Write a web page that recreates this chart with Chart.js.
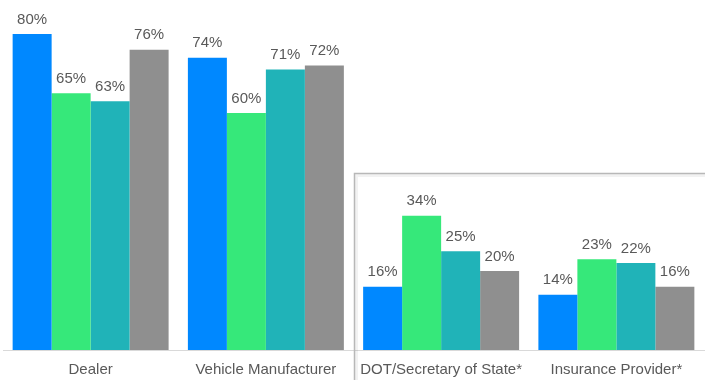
<!DOCTYPE html>
<html>
<head>
<meta charset="utf-8">
<script src="https://cdn.jsdelivr.net/npm/chart.js@4.4.1/dist/chart.umd.min.js"></script>
<style>
  html, body { margin: 0; padding: 0; background: #fff; }
  #wrap { width: 705px; height: 380px; position: relative; }
</style>
</head>
<body>
<div id="wrap"><canvas id="chart"></canvas></div>
<script>
// ── Data ───────────────────────────────────────────────────────
const categories = ['Dealer', 'Vehicle Manufacturer', 'DOT/Secretary of State*', 'Insurance Provider*'];
const seriesA = [80, 74, 16, 14];
const seriesB = [65, 60, 34, 23];
const seriesC = [63, 71, 25, 22];
const seriesD = [76, 72, 20, 16];

const colors = ['#0088ff', '#36e87a', '#20b3b8', '#8f8f8f'];
const labelColor = '#595959';
const fontFamily = '"Liberation Sans", Arial, sans-serif';

// ── Plugins ────────────────────────────────────────────────────
// percent labels above each bar
const valueLabels = {
  id: 'valueLabels',
  afterDatasetsDraw(chart) {
    const { ctx } = chart;
    ctx.save();
    ctx.font = `15px ${fontFamily}`;
    ctx.fillStyle = labelColor;
    ctx.textAlign = 'center';
    ctx.textBaseline = 'bottom';
    chart.data.datasets.forEach((ds, i) => {
      chart.getDatasetMeta(i).data.forEach((bar, j) => {
        ctx.fillText(ds.data[j] + '%', bar.x, bar.y - 7);
      });
    });
    ctx.restore();
  },
};

// framed panel behind the last two groups
const panelBox = {
  id: 'panelBox',
  beforeDatasetsDraw(chart) {
    const { ctx, scales: { x, y } } = chart;
    const left = Math.round((x.getPixelForTick(1) + x.getPixelForTick(2)) / 2) + 0.5;
    const top = Math.round(y.getPixelForValue(44.8)) + 0.5;
    ctx.save();
    ctx.strokeStyle = 'rgba(0,0,0,0.05)';
    ctx.lineWidth = 3;
    ctx.strokeRect(left + 2, top + 2, chart.width + 20, chart.height + 20);
    ctx.strokeStyle = '#b8b8b8';
    ctx.lineWidth = 1.5;
    ctx.strokeRect(left, top, chart.width + 20, chart.height + 20);
    ctx.restore();
  },
};

// ── Chart ──────────────────────────────────────────────────────
new Chart(document.getElementById('chart'), {
  type: 'bar',
  data: {
    labels: categories,
    datasets: [seriesA, seriesB, seriesC, seriesD].map((data, i) => ({
      data,
      backgroundColor: colors[i],
      borderWidth: 0,
      categoryPercentage: 0.89,
      barPercentage: 1.0,
    })),
  },
  options: {
    responsive: true,
    maintainAspectRatio: false,
    animation: false,
    layout: { padding: { left: 3, right: 1, top: 2, bottom: 0 } },
    plugins: {
      legend: { display: false },
      tooltip: { enabled: false },
    },
    scales: {
      x: {
        afterFit(scale) { scale.height = 30; },
        grid: { display: false, drawTicks: false },
        border: { color: '#d9d9d9', width: 1 },
        ticks: {
          color: labelColor,
          font: { family: fontFamily, size: 15 },
          padding: 11,
          maxRotation: 0,
          autoSkip: false,
        },
      },
      y: {
        display: false,
        min: 0,
        max: 88.1,
      },
    },
  },
  plugins: [panelBox, valueLabels],
});
</script>
</body>
</html>
